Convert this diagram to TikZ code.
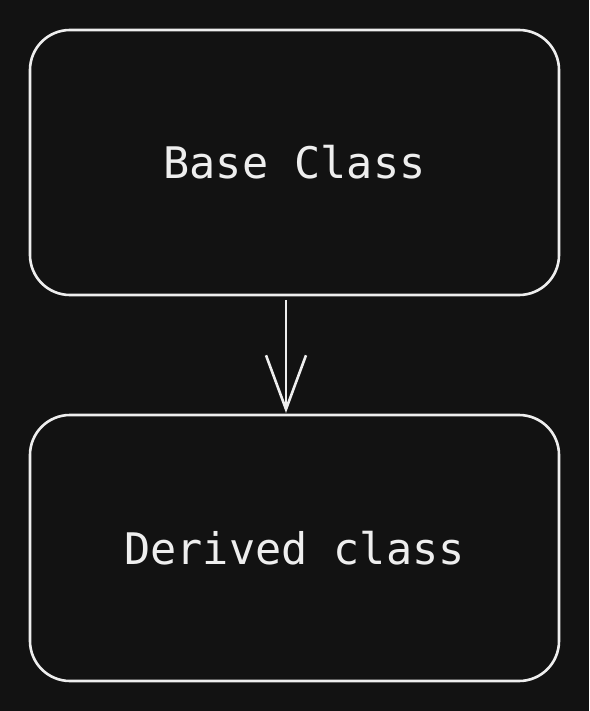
\documentclass[tikz,border=0pt]{standalone}
\usepackage{fontspec}
\setmonofont{DejaVu Sans Mono}
\usetikzlibrary{arrows.meta, positioning}
\definecolor{bgdark}{HTML}{121212}
\definecolor{inkwhite}{HTML}{EEEEEE}

\begin{document}
\begin{tikzpicture}[x=1pt,y=1pt,>={Straight Barb[length=54pt,width=40pt]},
  line width=2.6pt,
  class node/.style={rectangle,rounded corners=40pt,draw=inkwhite,text=inkwhite,
    minimum width=529pt,minimum height=265pt,inner sep=0pt,outer sep=0pt,
    font=\ttfamily\fontsize{43.5}{52}\selectfont}]
  \fill[bgdark] (0,0) rectangle (589,-711);
  \useasboundingbox (0,0) rectangle (589,-711);
  \node[class node] (base) at (294.5,-162.5) {Base Class};
  \node[class node, minimum height=266pt] (derived) [below=120pt of base] {Derived class};
  % arrow sits a little left of the centre line
  \draw[->,draw=inkwhite,shorten <=5pt,shorten >=2pt]
    ([xshift=-8.5pt]base.south) -- ([xshift=-8.5pt]derived.north);
\end{tikzpicture}
\end{document}
